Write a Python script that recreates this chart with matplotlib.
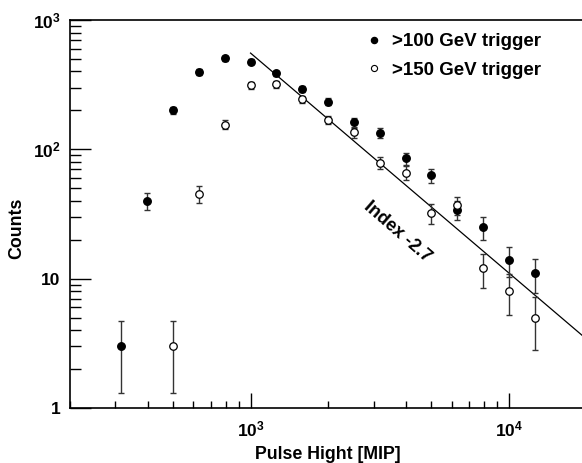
import numpy as np
import matplotlib
matplotlib.use("Agg")
import matplotlib.pyplot as plt
from matplotlib.lines import Line2D
from matplotlib.ticker import LogLocator, NullFormatter, FixedLocator, FixedFormatter

plt.rcParams['font.family'] = ['Liberation Sans', 'DejaVu Sans']
plt.rcParams['font.weight'] = 'bold'
plt.rcParams['mathtext.fontset'] = 'custom'
plt.rcParams['mathtext.bf'] = 'Liberation Sans:bold'
plt.rcParams['mathtext.rm'] = 'Liberation Sans:bold'

# Pulse height bin centres [MIP]
x_100 = [316, 398, 501, 631, 794, 1000, 1259, 1585, 1995, 2512, 3162, 3981, 5012, 6310, 7943, 10000, 12589]
y_100 = [3, 40, 200, 395, 505, 475, 386, 293, 234, 162, 134, 85, 63, 34, 25, 14, 11]
e_100 = [1.7, 6.3, 14, 20, 22, 22, 20, 17, 15, 13, 11.6, 9.2, 7.9, 5.8, 5.0, 3.7, 3.3]

x_150 = [501, 631, 794, 1000, 1259, 1585, 1995, 2512, 3162, 3981, 5012, 6310, 7943, 10000, 12589]
y_150 = [3, 45, 155, 312, 318, 244, 169, 135, 79, 66, 32, 37, 12, 8, 5]
e_150 = [1.7, 6.7, 12.4, 17.7, 17.8, 15.6, 13, 11.6, 8.9, 8.1, 5.7, 6.1, 3.5, 2.8, 2.2]

label_100 = ">100 GeV trigger"
label_150 = ">150 GeV trigger"

# power-law guide line
fit_x = [1000, 20000]
fit_norm = 555
fit_slope = -1.7
fit_label = "Index -2.7"

fig = plt.figure(figsize=(5.82, 4.63), dpi=100)
ax = fig.add_axes([70/582, 1-408/463, 1-70/582, (408-20)/463])

ax.set_xscale('log')
ax.set_yscale('log')
ax.set_xlim(200, 19200)
ax.set_ylim(1, 1000)

fx = np.array(fit_x, dtype=float)
ax.plot(fx, fit_norm*(fx/1000.0)**fit_slope, color='black', lw=0.9, zorder=2)

ax.errorbar(x_100, y_100, yerr=e_100, fmt='none',
            ecolor='#333333', elinewidth=1.0, capsize=2.2, capthick=1.0, zorder=3)
ax.errorbar(x_150, y_150, yerr=e_150, fmt='none',
            ecolor='#333333', elinewidth=1.0, capsize=2.2, capthick=1.0, zorder=3)
ax.plot(x_100, y_100, 'o', ms=5.4, mfc='black', mec='black', zorder=5)
ax.plot(x_150, y_150, 'o', ms=5.4, mfc='white', mec='black', mew=0.9, zorder=5)

ax.text(3715, 23.1, fit_label, rotation=-41, ha='center', va='center',
        fontsize=13, fontweight='bold')

# spines
ax.spines['right'].set_visible(False)
for s in ['left', 'bottom', 'top']:
    ax.spines[s].set_linewidth(1.2)

ax.tick_params(which='both', direction='in', top=False, right=False)
ax.tick_params(axis='y', which='major', length=15, width=1.0, labelsize=12.5, pad=7)
ax.tick_params(axis='y', which='minor', length=8, width=1.0)
ax.tick_params(axis='x', which='major', length=11, width=1.0, labelsize=12.5, pad=8)
ax.tick_params(axis='x', which='minor', length=5, width=1.0)

ax.yaxis.set_major_locator(FixedLocator([1, 10, 100, 1000]))
ax.yaxis.set_major_formatter(FixedFormatter(['1', '10', r'$\mathbf{10^2}$', r'$\mathbf{10^3}$']))
ax.yaxis.set_minor_locator(LogLocator(base=10, subs=np.arange(2, 10), numticks=20))
ax.yaxis.set_minor_formatter(NullFormatter())
ax.xaxis.set_major_locator(FixedLocator([1000, 10000]))
ax.xaxis.set_major_formatter(FixedFormatter([r'$\mathbf{10^3}$', r'$\mathbf{10^4}$']))
ax.xaxis.set_minor_locator(LogLocator(base=10, subs=np.arange(2, 10), numticks=20))
ax.xaxis.set_minor_formatter(NullFormatter())

ax.set_xlabel('Pulse Hight [MIP]', fontsize=12.8, fontweight='bold')
ax.xaxis.set_label_coords((328-70)/512, -0.098)
ax.set_ylabel('Counts', fontsize=12.8, fontweight='bold')
ax.yaxis.set_label_coords(-(70-25)/512, 1-(228-20)/388)

handles = [Line2D([], [], ls='none', marker='o', ms=4.4, mfc='black', mec='black'),
           Line2D([], [], ls='none', marker='o', ms=4.4, mfc='white', mec='black', mew=0.8)]
leg = ax.legend(handles, [label_100, label_150], loc='upper left',
                bbox_to_anchor=((366.8-70)/512, 0.966), frameon=False,
                fontsize=13.5, handlelength=0.8, handletextpad=0.55, labelspacing=0.6,
                borderaxespad=0.0, borderpad=0.0)
for t in leg.get_texts():
    t.set_fontweight('bold')

fig.savefig('out.png', dpi=100)
